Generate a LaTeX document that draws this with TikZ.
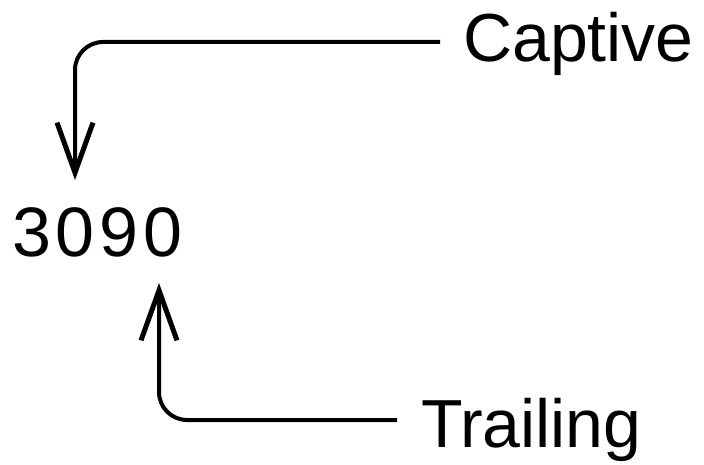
\documentclass[tikz,border=0pt]{standalone}
\usepackage{fontspec}
\setmainfont{Liberation Sans}
\usetikzlibrary{arrows.meta}
\begin{document}
\begin{tikzpicture}[x=1pt,y=-1pt,
  lbl/.style={inner sep=0pt,anchor=base west,font=\fontsize{68}{68}\selectfont},
  numlbl/.style={inner sep=0pt,anchor=base west,font=\fontsize{70}{70}\selectfont\addfontfeature{LetterSpace=7}},
  conn/.style={line width=4pt,rounded corners=28pt,-{Straight Barb[length=50pt,width=36pt,line width=5pt]}}]
\useasboundingbox (0,0) rectangle (704,465);
\node[lbl] (cap) at (463,62) {Captive};
\node[lbl] (trl) at (421,447) {Trailing};
\node[numlbl] (num) at (12,256) {3090};
\coordinate (capend) at (440,42);
\coordinate (trlend) at (397,420);
\coordinate (tip1) at (75,180);
\coordinate (tip2) at (159,283);
\draw[conn] (capend) -| (tip1);
\draw[conn] (trlend) -| (tip2);
\end{tikzpicture}
\end{document}
